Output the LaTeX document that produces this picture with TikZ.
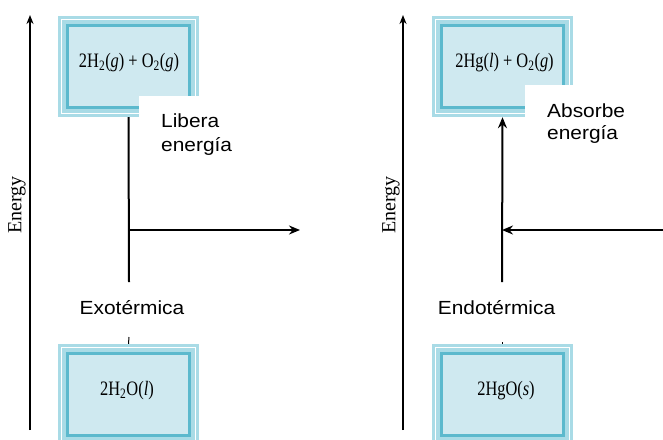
\documentclass[tikz,border=0pt]{standalone}
\usepackage{fontspec}
\setmainfont{Liberation Serif}
\newfontfamily\chemf[FakeStretch=0.8]{Liberation Serif}
\newfontfamily\labf[FakeStretch=1.1]{Liberation Sans}
\usetikzlibrary{arrows.meta}
\definecolor{bandc}{HTML}{A9DBE6}
\definecolor{fillc}{HTML}{CFE9F0}
\definecolor{darkc}{HTML}{5CB9CD}
\tikzset{
  rxbox/.style={minimum width=141pt, minimum height=101pt, inner sep=0pt, fill=bandc,
    path picture={
      \path (path picture bounding box.south west) coordinate (sw)
            (path picture bounding box.north east) coordinate (ne);
      \draw[white, line width=1pt] ([shift={(3.5pt,3.5pt)}]sw) rectangle ([shift={(-3.5pt,-3.5pt)}]ne);
      \draw[darkc, line width=3.5pt, fill=fillc] ([shift={(9.5pt,9.5pt)}]sw) rectangle ([shift={(-9.5pt,-9.5pt)}]ne);
    }},
  chem/.style={font=\chemf\fontsize{20.5}{23}\selectfont, anchor=base, inner sep=0pt},
  lab/.style={font=\labf\fontsize{19}{24}\selectfont, inner sep=0pt},
  patch/.style={fill=white, inner sep=0pt, anchor=north west},
  axis/.style={line width=1.5pt, -{Stealth[length=9pt,width=7pt]}},
  conn/.style={line width=2pt},
  arr/.style={line width=2pt, -{Stealth[length=11pt,width=9pt]}},
  elab/.style={font=\fontsize{20}{22}\selectfont, rotate=90, inner sep=0pt}
}
\begin{document}
\begin{tikzpicture}[x=1pt, y=-1pt]
\useasboundingbox (0,0) rectangle (663,439);
\clip (0,0) rectangle (663,439);
% ---------- left panel ----------
\coordinate (a1b) at (30,430);
\coordinate (a1t) at (30,15);
\draw[axis] (a1b) -- (a1t);
\node[elab] (e1) at (17,205) {Energy};
\node[rxbox] (r1) at (128.5,66.5) {};
\node[chem] (r1t) at (129,67) {2H\textsubscript{2}(\textit{g}) + O\textsubscript{2}(\textit{g})};
\node[rxbox] (p1) at (128.5,394.5) {};
\node[chem] (p1t) at (127,395) {2H\textsubscript{2}O(\textit{l})};
\node[patch, minimum width=62pt, minimum height=23pt] (w1) at (139,96) {};
\node[lab, align=left, anchor=north west] (lib) at (161,113.5) {Libera\\energía};
\coordinate (c1) at (129,282);
\coordinate (h1s) at (129,230);
\coordinate (h1e) at (300,230);
\draw[conn] (r1.south) -- (c1);
\draw[arr] (h1s) -- (h1e);
\node[lab, anchor=base] (exo) at (132,314) {Exotérmica};
\coordinate (t1) at (129,337);
\draw[line width=1pt] (t1) -- (p1.north);
% ---------- right panel ----------
\coordinate (a2b) at (403,430);
\coordinate (a2t) at (403,15);
\draw[axis] (a2b) -- (a2t);
\node[elab] (e2) at (391,205) {Energy};
\node[rxbox] (r2) at (502.5,66.5) {};
\node[chem] (r2t) at (504.5,67) {2Hg(\textit{l}) + O\textsubscript{2}(\textit{g})};
\node[rxbox] (p2) at (502.5,394.5) {};
\node[chem] (p2t) at (506,395) {2HgO(\textit{s})};
\node[patch, minimum width=50pt, minimum height=34pt] (w2) at (525,85) {};
\node[lab, align=left, anchor=north west, font=\labf\fontsize{19}{22.5}\selectfont] (abs) at (547,103.5) {Absorbe\\energía};
\coordinate (c2) at (502,282);
\coordinate (h2s) at (663,230);
\coordinate (h2e) at (502,230);
\draw[arr] (c2) -- (r2.south);
\draw[arr] (h2s) -- (h2e);
\node[lab, anchor=base] (endo) at (496.5,314) {Endotérmica};
\coordinate (t2) at (502.5,342);
\draw[line width=1pt] (t2) -- (p2.north);
\end{tikzpicture}
\end{document}
